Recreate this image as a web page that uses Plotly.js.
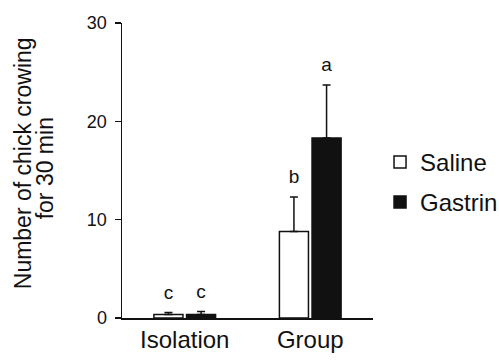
<!DOCTYPE html>
<html>
<head>
<meta charset="utf-8">
<script src="https://cdn.plot.ly/plotly-3.0.1.min.js"></script>
<style>html,body{margin:0;padding:0;background:#fff;}#chart{width:499px;height:362px;}</style>
</head>
<body>
<div id="chart"></div>
<script>
const categories = ["Isolation", "Group"];
const salineMean = [0.35, 8.8];
const salineErr = [0.2, 3.5];
const gastrinMean = [0.35, 18.3];
const gastrinErr = [0.3, 5.4];
const salineLetters = ["c", "b"];
const gastrinLetters = ["c", "a"];
const yTickVals = [0, 10, 20, 30];
const yTitleLines = ["Number of chick crowing", "for 30 min"];

const FONT = "Liberation Sans, Arial, sans-serif";
const LETTER_PAD = 0.9; // gap (data units) between error-bar top and letter

const above = (a, b) => a.map((v, i) => v + b[i] + LETTER_PAD);

const traces = [
  {
    type: "bar", name: "Saline", x: categories, y: salineMean,
    offsetgroup: "s", legendgroup: "s",
    marker: {color: "#ffffff", line: {color: "#111", width: 1.5}},
    error_y: {type: "data", array: salineErr, arrayminus: [0, 0], symmetric: false, color: "#111", thickness: 1.5, width: 4}
  },
  {
    type: "bar", name: "Gastrin", x: categories, y: gastrinMean,
    offsetgroup: "g", legendgroup: "g",
    marker: {color: "#111111", line: {color: "#111", width: 1.5}},
    error_y: {type: "data", array: gastrinErr, arrayminus: [0, 0], symmetric: false, color: "#111", thickness: 1.5, width: 4}
  },
  {
    type: "scatter", mode: "text", x: categories, y: above(salineMean, salineErr),
    text: salineLetters, textposition: "top center", offsetgroup: "s",
    textfont: {family: FONT, size: 19, color: "#111"}, showlegend: false, hoverinfo: "skip"
  },
  {
    type: "scatter", mode: "text", x: categories, y: above(gastrinMean, gastrinErr),
    text: gastrinLetters, textposition: "top center", offsetgroup: "g",
    textfont: {family: FONT, size: 19, color: "#111"}, showlegend: false, hoverinfo: "skip"
  }
];

const layout = {
  width: 499, height: 362,
  margin: {l: 122, r: 126, t: 23, b: 44, autoexpand: false},
  paper_bgcolor: "#fff", plot_bgcolor: "#fff",
  font: {family: FONT, color: "#111"},
  barmode: "group", scattermode: "group",
  bargap: 0.48, bargroupgap: 0.11, scattergap: 0.48,
  showlegend: true,
  legend: {
    x: 1.028, xanchor: "left", y: 0.46, yanchor: "middle",
    font: {family: FONT, size: 24, color: "#111"},
    tracegroupgap: 6, traceorder: "grouped", bgcolor: "rgba(0,0,0,0)"
  },
  xaxis: {
    type: "category", showline: true, linecolor: "#111", linewidth: 1.5,
    ticks: "", tickfont: {family: FONT, size: 24, color: "#111"},
    showgrid: false, zeroline: false, fixedrange: true
  },
  yaxis: {
    range: [0, 30], tickvals: yTickVals, showline: true, linecolor: "#111", linewidth: 1.5,
    ticks: "outside", ticklen: 6, tickwidth: 1.5, tickcolor: "#111",
    tickfont: {family: FONT, size: 18, color: "#111"}, ticklabelstandoff: 4,
    showgrid: false, zeroline: false, fixedrange: true
  },
  annotations: [
    {xref: "paper", yref: "paper", x: -0.394, y: 0.525, xanchor: "center", yanchor: "middle",
     text: yTitleLines[0], textangle: -90, showarrow: false, font: {family: FONT, size: 23, color: "#111"}},
    {xref: "paper", yref: "paper", x: -0.306, y: 0.508, xanchor: "center", yanchor: "middle",
     text: yTitleLines[1], textangle: -90, showarrow: false, font: {family: FONT, size: 23, color: "#111"}}
  ]
};

Plotly.newPlot("chart", traces, layout, {staticPlot: true, displayModeBar: false});
</script>
</body>
</html>
